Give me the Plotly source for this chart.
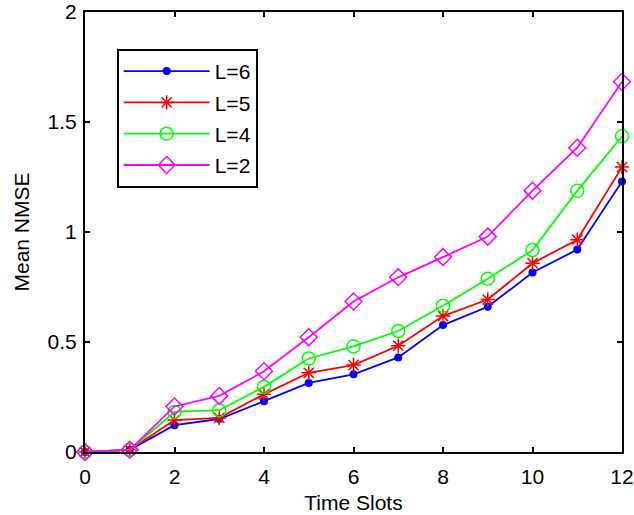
import plotly.graph_objects as go

time_slots = list(range(13))
L6 = [0, 0.01, 0.122, 0.15, 0.231, 0.314, 0.353, 0.43, 0.577, 0.66, 0.816, 0.92, 1.23]
L5 = [0, 0.01, 0.145, 0.155, 0.262, 0.36, 0.395, 0.483, 0.618, 0.693, 0.858, 0.965, 1.295]
L4 = [0, 0.01, 0.182, 0.19, 0.296, 0.425, 0.48, 0.55, 0.665, 0.787, 0.918, 1.187, 1.435]
L2 = [0, 0.01, 0.207, 0.255, 0.367, 0.522, 0.684, 0.794, 0.886, 0.979, 1.188, 1.383, 1.683]

series = [
    ("L=6", L6, "#0000FF", dict(symbol="circle", size=8, color="#0000FF")),
    ("L=5", L5, "#FF0000", dict(symbol="asterisk-open", size=12, color="#FF0000", line=dict(width=1.5, color="#FF0000"))),
    ("L=4", L4, "#00FF00", dict(symbol="circle-open", size=13, color="#00FF00", line=dict(width=1.5, color="#00FF00"))),
    ("L=2", L2, "#FF00FF", dict(symbol="diamond-open", size=13, color="#FF00FF", line=dict(width=1.5, color="#FF00FF"))),
]

fig = go.Figure()
for name, vals, col, mk in series:
    fig.add_trace(go.Scatter(x=time_slots, y=vals, name=name, mode="lines+markers",
                             legendgroup=name, cliponaxis=False,
                             line=dict(color=col, width=1.8), marker=mk))

font = dict(family="Liberation Sans, Arial, sans-serif", size=21, color="black")
axis_common = dict(showline=True, linecolor="black", linewidth=2, mirror="ticks",
                   ticks="inside", ticklen=5, tickwidth=1.5, tickcolor="black",
                   showgrid=False, zeroline=False, tickfont=font, automargin=False)
fig.update_layout(
    template="none",
    width=634, height=515,
    margin=dict(l=85, r=12, t=12, b=63),
    paper_bgcolor="white", plot_bgcolor="white",
    font=font,
    xaxis=dict(range=[0, 12], dtick=2, ticklabelstandoff=5,
               title=dict(text="Time Slots", font=font, standoff=8), **axis_common),
    yaxis=dict(range=[0, 2], dtick=0.5, ticklabelstandoff=2,
               title=dict(text="Mean NMSE", font=font, standoff=12), **axis_common),
    legend=dict(x=0.059, y=0.916, xanchor="left", yanchor="top", bgcolor="white",
                bordercolor="black", borderwidth=2, font=font, tracegroupgap=1,
                itemwidth=86),
    showlegend=True,
)
fig.write_html("out.html", config={"displayModeBar": False},
               post_script="document.body.style.margin='0';document.body.style.overflow='hidden';")
